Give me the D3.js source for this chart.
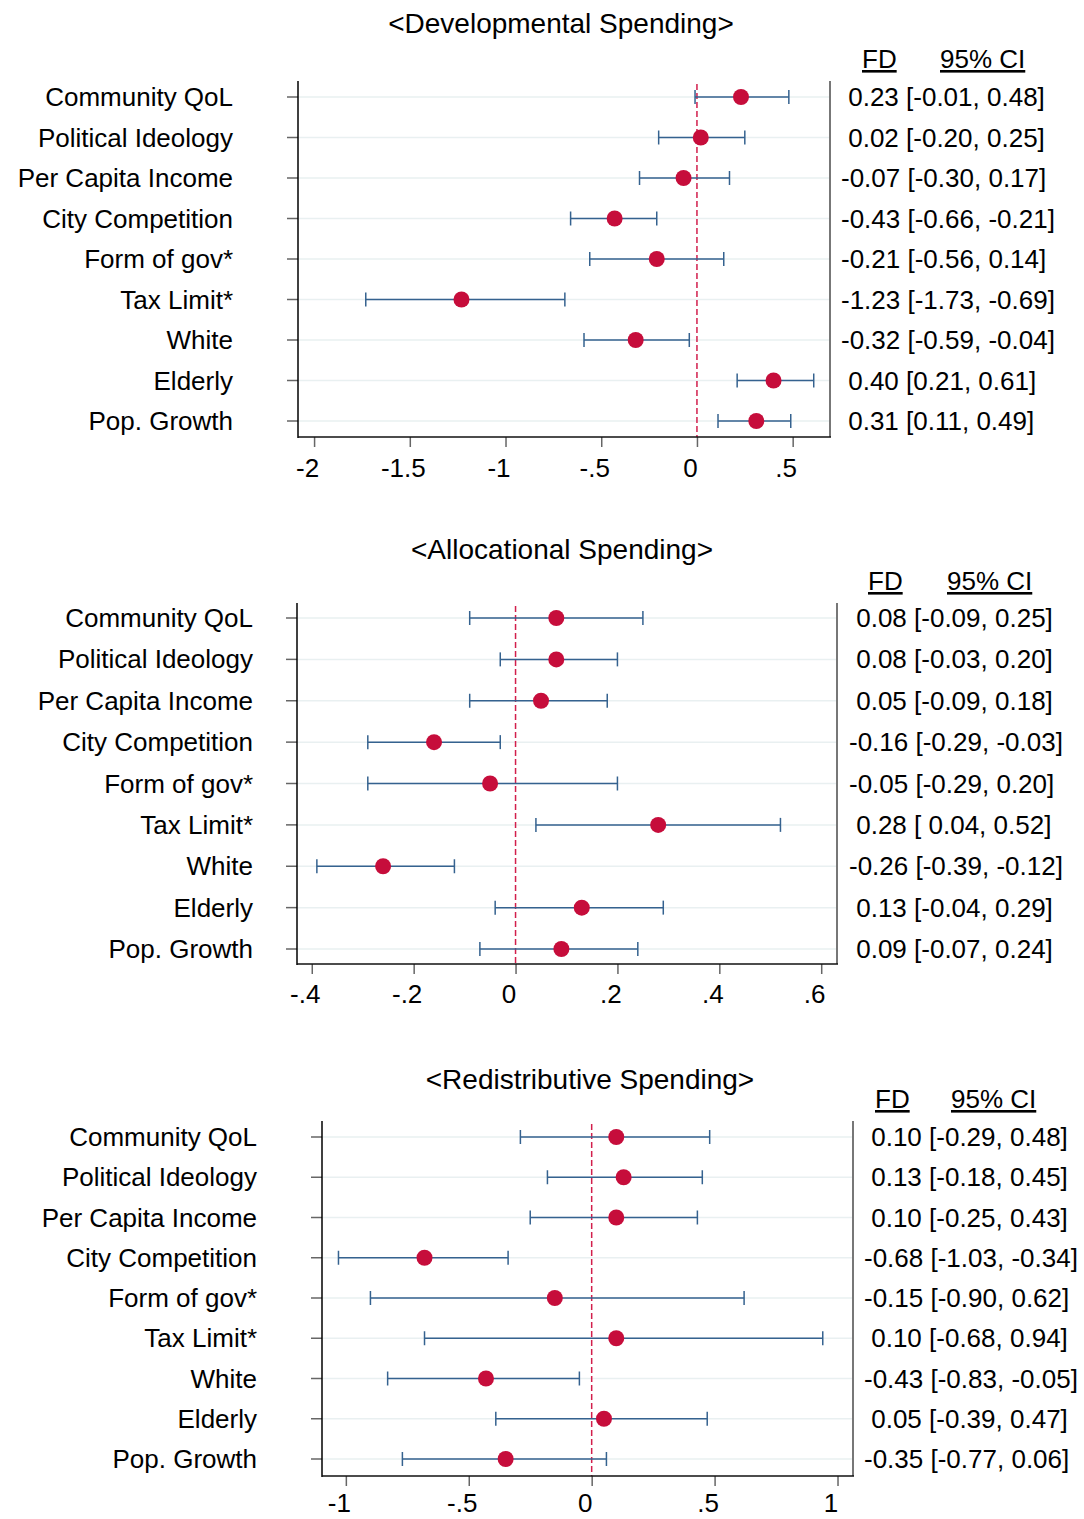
<!DOCTYPE html>
<html>
<head>
<meta charset="utf-8">
<script src="https://cdn.jsdelivr.net/npm/d3@7"></script>
<style>
  body { margin: 0; background: #ffffff; }
  text { font-family: "Liberation Sans", Arial, sans-serif; fill: #000; }
</style>
</head>
<body>
<script>
// row labels, shared by all three panels (top to bottom)
var labels = ['Community QoL', 'Political Ideology', 'Per Capita Income', 'City Competition',
  'Form of gov*', 'Tax Limit*', 'White', 'Elderly', 'Pop. Growth'];

// developmental spending: first difference and 95% CI
var devFD = [0.23, 0.02, -0.07, -0.43, -0.21, -1.23, -0.32, 0.40, 0.31];
var devLo = [-0.01, -0.20, -0.30, -0.66, -0.56, -1.73, -0.59, 0.21, 0.11];
var devHi = [0.48, 0.25, 0.17, -0.21, 0.14, -0.69, -0.04, 0.61, 0.49];
var devTicks = [-2, -1.5, -1, -0.5, 0, 0.5];
var devTickLabels = ['-2', '-1.5', '-1', '-.5', '0', '.5'];

// allocational spending
var allocFD = [0.08, 0.08, 0.05, -0.16, -0.05, 0.28, -0.26, 0.13, 0.09];
var allocLo = [-0.09, -0.03, -0.09, -0.29, -0.29, 0.04, -0.39, -0.04, -0.07];
var allocHi = [0.25, 0.20, 0.18, -0.03, 0.20, 0.52, -0.12, 0.29, 0.24];
var allocTicks = [-0.4, -0.2, 0, 0.2, 0.4, 0.6];
var allocTickLabels = ['-.4', '-.2', '0', '.2', '.4', '.6'];

// redistributive spending
var redisFD = [0.10, 0.13, 0.10, -0.68, -0.15, 0.10, -0.43, 0.05, -0.35];
var redisLo = [-0.29, -0.18, -0.25, -1.03, -0.90, -0.68, -0.83, -0.39, -0.77];
var redisHi = [0.48, 0.45, 0.43, -0.34, 0.62, 0.94, -0.05, 0.47, 0.06];
var redisTicks = [-1, -0.5, 0, 0.5, 1];
var redisTickLabels = ['-1', '-.5', '0', '.5', '1'];

var titles = ['<Developmental Spending>', '<Allocational Spending>', '<Redistributive Spending>'];

// layout per panel (pixel geometry only); padLo = pad positive lower CI bound with a space
var panels = [
  {fd: devFD, lo: devLo, hi: devHi, ticks: devTicks, tickLabels: devTickLabels, padLo: false,
   left: 298, right: 830, top: 81, bottom: 437, rowTop: 97, rowBot: 421, domain: [-2.084, 0.695],
   labelRight: 233, valueX: 841, fdX: 862, ciX: 940, headY: 68, titleX: 561, titleY: 33, tickPad: 12},
  {fd: allocFD, lo: allocLo, hi: allocHi, ticks: allocTicks, tickLabels: allocTickLabels, padLo: true,
   left: 297, right: 837, top: 603, bottom: 964, rowTop: 618, rowBot: 949, domain: [-0.429, 0.631],
   labelRight: 253, valueX: 849, fdX: 868, ciX: 947, headY: 590, titleX: 562, titleY: 559, tickPad: 11},
  {fd: redisFD, lo: redisLo, hi: redisHi, ticks: redisTicks, tickLabels: redisTickLabels, padLo: true,
   left: 322, right: 853, top: 1121, bottom: 1476, rowTop: 1137, rowBot: 1459, domain: [-1.097, 1.063],
   labelRight: 257, valueX: 864, fdX: 875, ciX: 951, headY: 1108, titleX: 590, titleY: 1089, tickPad: 8}
];

var fs = 26;
var bar_color = '#35628f', dot_color = '#c60d3b', ref_color = '#d21f4c';

// stata style number: leading space for positives
function fmt(v, pad)  {
  return (v < 0 || !pad ? '' : '\u00a0') + v.toFixed(2);
}

var svg = d3.select('body').append('svg').attr('width', 1084).attr('height', 1519);

function draw_panel(p, k)  {
  var g = svg.append('g');
  var x_scale = d3.scaleLinear().domain(p.domain).range([p.left, p.right]);
  var y_scale = d3.scalePoint().domain(labels).range([p.rowTop, p.rowBot]);
  var rows = labels.map(function(l, i)  {
    return {label: l, fd: p.fd[i], lo: p.lo[i], hi: p.hi[i]};
  });

  // title
  g.append('text').attr('x', p.titleX).attr('y', p.titleY).attr('text-anchor', 'middle')
    .style('font-size', '28px').text(titles[k]);

  // light gridlines
  g.selectAll('.grid').data(rows).enter().append('line')
    .attr('x1', p.left).attr('x2', p.right)
    .attr('y1', d => y_scale(d.label)).attr('y2', d => y_scale(d.label))
    .attr('stroke', '#e9f0f1').attr('stroke-width', 1.5);

  // frame: left + bottom axes black, right border grey
  g.append('line').attr('x1', p.right).attr('x2', p.right).attr('y1', p.top).attr('y2', p.bottom)
    .attr('stroke', '#777').attr('stroke-width', 2);

  // y ticks + labels
  g.selectAll('.ytick').data(rows).enter().append('line')
    .attr('x1', p.left - 11).attr('x2', p.left)
    .attr('y1', d => y_scale(d.label)).attr('y2', d => y_scale(d.label))
    .attr('stroke', '#666').attr('stroke-width', 1.5);
  g.selectAll('.ylab').data(rows).enter().append('text')
    .attr('x', p.labelRight).attr('y', d => y_scale(d.label) + 9)
    .attr('text-anchor', 'end').style('font-size', fs + 'px').text(d => d.label);

  // x axis via d3 axis, restyled
  var ax = g.append('g').attr('transform', 'translate(0,' + p.bottom + ')')
    .call(d3.axisBottom(x_scale).tickValues(p.ticks).tickSize(10).tickPadding(p.tickPad)
      .tickFormat(function(d, i)  { return p.tickLabels[i]; }));
  ax.select('.domain').remove();
  ax.selectAll('line').attr('stroke', '#666').attr('stroke-width', 1.5);
  ax.selectAll('text').attr('dx', -7).style('font-size', fs + 'px')
    .style('font-family', '"Liberation Sans", Arial, sans-serif').attr('fill', '#000');

  // reference line at zero
  g.append('line').attr('x1', x_scale(0)).attr('x2', x_scale(0))
    .attr('y1', p.top + 3).attr('y2', p.bottom)
    .attr('stroke', ref_color).attr('stroke-width', 1.5).attr('stroke-dasharray', '6,3');

  g.append('line').attr('x1', p.left).attr('x2', p.left).attr('y1', p.top).attr('y2', p.bottom + 1)
    .attr('stroke', '#000').attr('stroke-width', 1.5);
  g.append('line').attr('x1', p.left).attr('x2', p.right + 1).attr('y1', p.bottom).attr('y2', p.bottom)
    .attr('stroke', '#111').attr('stroke-width', 1.5);

  // confidence intervals with caps
  g.selectAll('.ci').data(rows).enter().append('line')
    .attr('x1', d => x_scale(d.lo)).attr('x2', d => x_scale(d.hi))
    .attr('y1', d => y_scale(d.label)).attr('y2', d => y_scale(d.label))
    .attr('stroke', bar_color).attr('stroke-width', 1.5);
  ['lo', 'hi'].forEach(function(key)  {
    g.selectAll('.cap' + key).data(rows).enter().append('line')
      .attr('x1', d => x_scale(d[key])).attr('x2', d => x_scale(d[key]))
      .attr('y1', d => y_scale(d.label) - 7).attr('y2', d => y_scale(d.label) + 7)
      .attr('stroke', bar_color).attr('stroke-width', 1.5);
  });

  // point estimates
  g.selectAll('.dot').data(rows).enter().append('circle')
    .attr('cx', d => x_scale(d.fd)).attr('cy', d => y_scale(d.label)).attr('r', 8)
    .attr('fill', dot_color);

  // right column: header + values
  g.append('text').attr('x', p.fdX).attr('y', p.headY).style('font-size', fs + 'px')
    .style('text-decoration', 'underline').text('FD');
  g.append('text').attr('x', p.ciX).attr('y', p.headY).style('font-size', fs + 'px')
    .style('text-decoration', 'underline').text('95% CI');
  g.selectAll('.val').data(rows).enter().append('text')
    .attr('x', p.valueX).attr('y', d => y_scale(d.label) + 9)
    .style('font-size', fs + 'px').style('white-space', 'pre')
    .text(d => fmt(d.fd, true) + ' [' + fmt(d.lo, p.padLo) + ', ' + d.hi.toFixed(2) + ']');
}

panels.forEach(draw_panel);
</script>
</body>
</html>
